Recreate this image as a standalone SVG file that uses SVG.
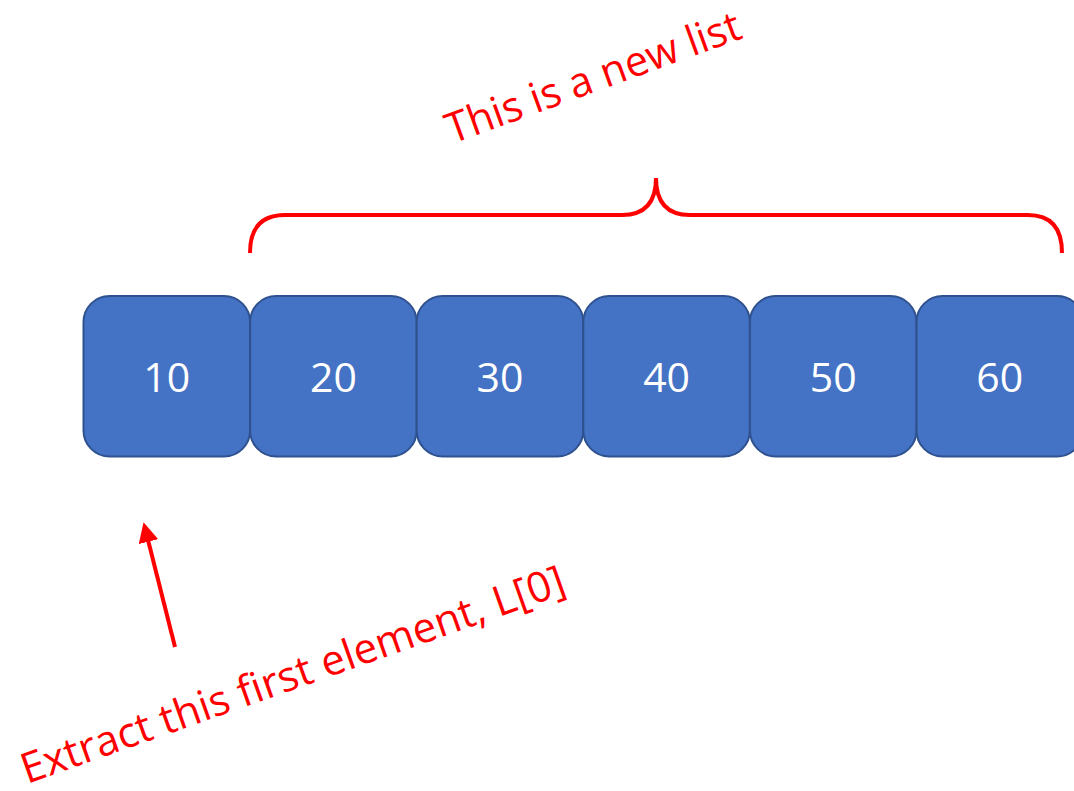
<svg xmlns="http://www.w3.org/2000/svg" width="1074" height="791" viewBox="0 0 1074 791">
  <style>
    .cell rect { fill: #4472C4; stroke: #2F528F; stroke-width: 2; }
    .cell text { fill: #FFFFFF; font-family: "Open Sans", "Liberation Sans", sans-serif; font-size: 41px; text-anchor: middle; }
    .note { fill: #FF0000; font-family: "Open Sans", "Liberation Sans", sans-serif; font-size: 42px; }
    .red-line { fill: none; stroke: #FF0000; stroke-width: 4; }
  </style>
  <defs>
    <marker id="arrowhead" markerWidth="5" markerHeight="5" refX="2.5" refY="2.5" orient="auto" markerUnits="strokeWidth">
      <path d="M0,0 L5,2.5 L0,5 Z" fill="#FF0000"/>
    </marker>
  </defs>
  <rect width="1074" height="791" fill="#FFFFFF"/>

  <!-- list cells -->
  <g id="cell-10" class="cell">
    <rect x="83.5" y="296" width="166.6" height="160.5" rx="26"/>
    <text x="166.8" y="392">10</text>
  </g>
  <g id="cell-20" class="cell">
    <rect x="250.1" y="296" width="166.6" height="160.5" rx="26"/>
    <text x="333.4" y="392">20</text>
  </g>
  <g id="cell-30" class="cell">
    <rect x="416.7" y="296" width="166.6" height="160.5" rx="26"/>
    <text x="500" y="392">30</text>
  </g>
  <g id="cell-40" class="cell">
    <rect x="583.3" y="296" width="166.6" height="160.5" rx="26"/>
    <text x="666.6" y="392">40</text>
  </g>
  <g id="cell-50" class="cell">
    <rect x="749.9" y="296" width="166.6" height="160.5" rx="26"/>
    <text x="833.2" y="392">50</text>
  </g>
  <g id="cell-60" class="cell">
    <rect x="916.5" y="296" width="166.6" height="160.5" rx="26"/>
    <text x="999.8" y="392">60</text>
  </g>

  <!-- annotations -->
  <g id="connectors">
    <path id="brace" class="red-line" d="M250,253 Q250,215 285,215 L622,215 Q656,215 656,178 Q656,215 690,215 L1028,215 Q1062,215 1062,253"/>
    <line id="pointer" class="red-line" x1="175" y1="647" x2="146" y2="532" marker-end="url(#arrowhead)"/>
  </g>

  <g id="label-new-list">
    <text class="note" transform="translate(452,144) rotate(-20)" textLength="311" lengthAdjust="spacingAndGlyphs">This is a new list</text>
  </g>
  <g id="label-first-element">
    <text class="note" transform="translate(27,784) rotate(-19.5)" textLength="574" lengthAdjust="spacingAndGlyphs">Extract this first element, L[0]</text>
  </g>
</svg>
